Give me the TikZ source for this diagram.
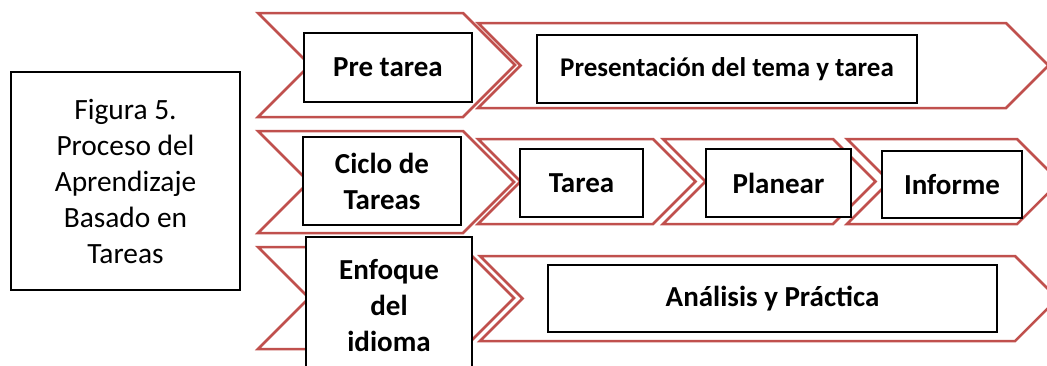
\documentclass[tikz,border=0pt]{standalone}
\usepackage{fontspec}
\setmainfont{Carlito}
\definecolor{chevred}{HTML}{C0504D}
\tikzset{
  chev/.style={draw=chevred, line width=2.5pt, fill=white, line join=miter},
  box/.style={draw=black, line width=2.5pt, fill=white, align=center, inner sep=0pt,
    font=\fontsize{29}{36}\selectfont\bfseries},
  figbox/.style={draw=black, line width=2pt, fill=white, align=center, inner sep=0pt,
    font=\fontsize{29.4}{36}\selectfont}
}
% \chevron{x1}{x2}{ytop}{ybot}
\newcommand{\chevron}[4]{%
  \pgfmathsetmacro{\cd}{(#4-#3)/2}%
  \pgfmathsetmacro{\cm}{(#4+#3)/2}%
  \path[chev] (#1,#3) -- (#2,#3) -- ({#2+\cd},\cm) -- (#2,#4) -- (#1,#4) -- ({#1+\cd},\cm) -- cycle;}
\begin{document}
\begin{tikzpicture}[x=1pt,y=-1pt]
\useasboundingbox (0,0) rectangle (1047,365);
\clip (0,0) rectangle (1047,365);
% row 1
\chevron{258}{463}{13}{117}
\chevron{478}{1006}{23}{108}
% row 2
\chevron{258}{463}{131}{233}
\chevron{478}{653}{139}{224}
\chevron{663}{833}{139}{224}
\chevron{847}{1017}{139}{224}
% row 3
\chevron{258}{463}{247}{349}
\chevron{480}{1015}{256}{341}
% boxes
\node[figbox, minimum width=229pt, minimum height=218pt] (fig) at (125.5,181)
  {Figura 5.\\Proceso del\\Aprendizaje\\Basado en\\Tareas};
\node[box, minimum width=168pt, minimum height=69pt] (pre) at (388,67.5) {Pre tarea};
\node[box, minimum width=380pt, minimum height=68pt, font=\fontsize{27}{33}\selectfont\bfseries] (pres) at (727,69) {Presentación del tema y tarea};
\node[box, minimum width=158pt, minimum height=88pt] (ciclo) at (382,181) {Ciclo de\\Tareas};
\node[box, minimum width=123pt, minimum height=68pt] (tarea) at (581.5,183) {Tarea};
\node[box, minimum width=145pt, minimum height=68pt] (planear) at (778.5,183) {Planear};
\node[box, minimum width=140pt, minimum height=67pt] (informe) at (952,184.5) {Informe};
\node[box, minimum width=166pt, minimum height=138pt] (enfoque) at (389,306) {Enfoque\\del\\idioma};
\node[box, minimum width=449pt, minimum height=67pt] (anal) at (772.5,298.5) {Análisis y Práctica};
\end{tikzpicture}
\end{document}
